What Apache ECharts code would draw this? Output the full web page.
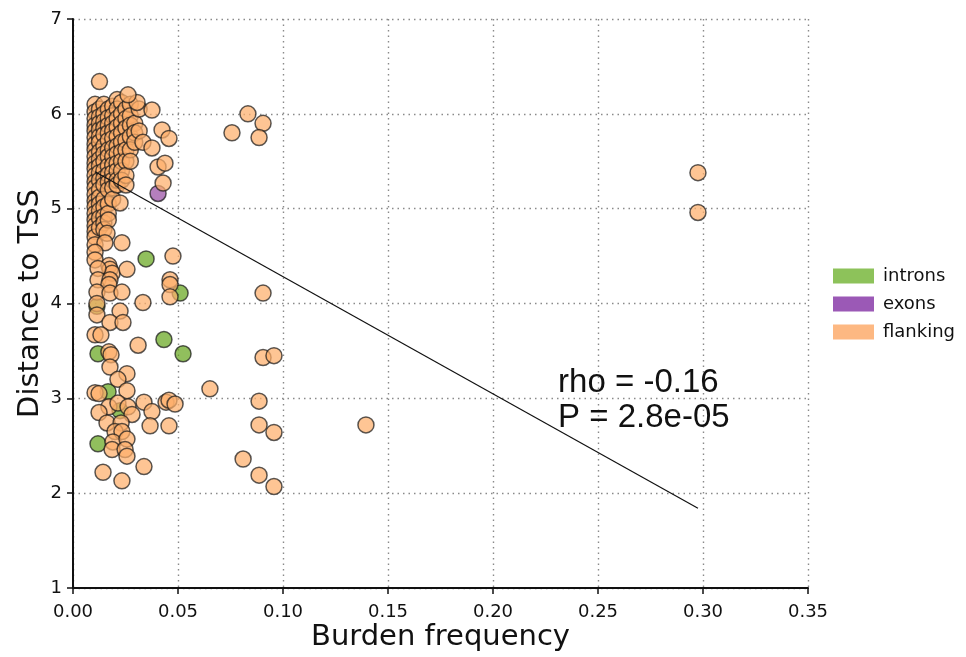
<!DOCTYPE html>
<html>
<head>
<meta charset="utf-8">
<script src="https://cdn.jsdelivr.net/npm/echarts@6/dist/echarts.min.js"></script>
<style>
  html, body { margin: 0; padding: 0; background: #ffffff; }
  #chart { width: 966px; height: 657px; }
</style>
</head>
<body>
<div id="chart"></div>
<script>
// Variant classes, in legend / draw order
const classNames = ['introns', 'exons', 'flanking'];
const pointColors = ['#66a61e', '#984ea3', '#fdae6b'];
const legendColors = ['#8dc25a', '#9b59b6', '#fdb882'];

// [burden frequency, distance to TSS]
const introns = [
  [0.0348, 4.47], [0.0510, 4.11], [0.0433, 3.62], [0.0524, 3.47],
  [0.0119, 3.47], [0.0167, 3.07], [0.0224, 2.87], [0.0119, 2.52],
  [0.0114, 3.97]
];

const exons = [
  [0.0405, 5.16]
];

// dense group of low-frequency variants
const flankingCore = [
  [0.0105, 6.10], [0.0105, 6.02], [0.0105, 5.95], [0.0105, 5.88], [0.0105, 5.82], [0.0105, 5.75],
  [0.0105, 5.68], [0.0105, 5.62], [0.0105, 5.55], [0.0105, 5.48], [0.0105, 5.42], [0.0105, 5.35],
  [0.0105, 5.28], [0.0105, 5.22], [0.0105, 5.15], [0.0105, 5.08], [0.0105, 5.02], [0.0105, 4.95],
  [0.0105, 4.88], [0.0105, 4.82], [0.0105, 4.76], [0.0105, 4.70],
  [0.0126, 6.34], [0.0126, 6.05], [0.0126, 5.97], [0.0126, 5.90], [0.0126, 5.83], [0.0126, 5.76],
  [0.0126, 5.70], [0.0126, 5.60], [0.0126, 5.52], [0.0126, 5.45], [0.0126, 5.38], [0.0126, 5.30],
  [0.0126, 5.20], [0.0126, 5.12], [0.0126, 5.05], [0.0126, 4.98], [0.0126, 4.90], [0.0126, 4.80],
  [0.0147, 6.10], [0.0147, 6.00], [0.0147, 5.92], [0.0147, 5.85], [0.0147, 5.78], [0.0147, 5.66],
  [0.0147, 5.58], [0.0147, 5.50], [0.0147, 5.40], [0.0147, 5.32], [0.0147, 5.25], [0.0147, 5.10],
  [0.0147, 5.02], [0.0147, 4.92], [0.0147, 4.85], [0.0147, 4.78],
  [0.0168, 6.05], [0.0168, 5.96], [0.0168, 5.88], [0.0168, 5.80], [0.0168, 5.72], [0.0168, 5.62],
  [0.0168, 5.55], [0.0168, 5.45], [0.0168, 5.36], [0.0168, 5.28], [0.0168, 5.20], [0.0168, 5.05],
  [0.0168, 4.95], [0.0168, 4.88],
  [0.0189, 6.08], [0.0189, 5.98], [0.0189, 5.90], [0.0189, 5.82], [0.0189, 5.74], [0.0189, 5.64],
  [0.0189, 5.55], [0.0189, 5.46], [0.0189, 5.38], [0.0189, 5.30], [0.0189, 5.22], [0.0189, 5.10],
  [0.0210, 6.15], [0.0210, 6.05], [0.0210, 5.95], [0.0210, 5.86], [0.0210, 5.76], [0.0210, 5.66],
  [0.0210, 5.58], [0.0210, 5.48], [0.0210, 5.40], [0.0210, 5.30], [0.0210, 5.25],
  [0.0231, 6.12], [0.0231, 6.00], [0.0231, 5.90], [0.0231, 5.80], [0.0231, 5.70], [0.0231, 5.60],
  [0.0231, 5.50], [0.0231, 5.40], [0.0231, 5.30],
  [0.0252, 6.05], [0.0252, 5.95], [0.0252, 5.85], [0.0252, 5.72], [0.0252, 5.62], [0.0252, 5.50],
  [0.0252, 5.35], [0.0252, 5.25],
  [0.0273, 6.10], [0.0273, 5.98], [0.0273, 5.88], [0.0273, 5.76], [0.0273, 5.62], [0.0273, 5.50],
  [0.0294, 5.90], [0.0294, 5.80], [0.0294, 5.70],
  [0.0315, 6.05], [0.0315, 5.82]
];

// the rest of the flanking variants
const flankingSpread = [
  [0.2976, 5.38], [0.2976, 4.96], [0.1395, 2.72], [0.0757, 5.80], [0.0833, 6.00], [0.0905, 5.90],
  [0.0886, 5.75], [0.0905, 4.11], [0.0905, 3.43], [0.0957, 3.45], [0.0652, 3.10], [0.0886, 2.97],
  [0.0886, 2.72], [0.0957, 2.64], [0.0810, 2.36], [0.0886, 2.19], [0.0957, 2.07],
  [0.0376, 6.04], [0.0424, 5.83], [0.0457, 5.74], [0.0333, 5.70], [0.0376, 5.64], [0.0405, 5.44],
  [0.0438, 5.48], [0.0429, 5.27], [0.0476, 4.50], [0.0462, 4.25], [0.0462, 4.20], [0.0462, 4.07],
  [0.0333, 4.01], [0.0233, 4.64], [0.0310, 3.56], [0.0338, 2.96], [0.0376, 2.86], [0.0367, 2.71],
  [0.0443, 2.96], [0.0457, 2.98], [0.0486, 2.94], [0.0457, 2.71], [0.0338, 2.28], [0.0224, 5.06],
  [0.0305, 6.12], [0.0262, 6.20],
  [0.0162, 4.74], [0.0105, 4.62], [0.0152, 4.64], [0.0105, 4.54], [0.0105, 4.46], [0.0171, 4.40],
  [0.0176, 4.36], [0.0186, 4.32], [0.0257, 4.36], [0.0119, 4.37], [0.0119, 4.25], [0.0176, 4.25],
  [0.0171, 4.20], [0.0114, 4.12], [0.0176, 4.11], [0.0233, 4.12], [0.0224, 3.92], [0.0114, 4.00],
  [0.0114, 3.88], [0.0176, 3.80], [0.0238, 3.80], [0.0105, 3.67], [0.0133, 3.67], [0.0171, 3.49],
  [0.0181, 3.46], [0.0176, 3.33], [0.0257, 3.26], [0.0214, 3.20], [0.0257, 3.08], [0.0105, 3.06],
  [0.0124, 3.05], [0.0171, 2.91], [0.0214, 2.95], [0.0262, 2.91], [0.0281, 2.83], [0.0124, 2.85],
  [0.0162, 2.74], [0.0229, 2.74], [0.0200, 2.65], [0.0233, 2.65], [0.0190, 2.54], [0.0257, 2.57],
  [0.0186, 2.46], [0.0248, 2.46], [0.0257, 2.39], [0.0143, 2.22], [0.0233, 2.13]
];

// least-squares fit, drawn between the smallest and largest burden frequency
const fitLine = [[0.0105, 5.39], [0.2976, 1.84]];

// correlation summary and where it sits (data coordinates, left / middle of each line)
const statsLines = ['rho = -0.16', 'P = 2.8e-05'];
const statsAnchors = [[0.231, 3.16], [0.231, 2.79]];

// axis ranges and tick spacing
const xRange = [0, 0.35], xStep = 0.05;
const yRange = [1, 7], yStep = 1;

const chart = echarts.init(document.getElementById('chart'), null, { renderer: 'canvas' });

const gridDash = { color: '#8a8a8a', type: [1.5, 4], width: 1.4 };
const tickFont = { fontFamily: 'DejaVu Sans', fontSize: 18, color: '#111' };
const titleFont = { fontFamily: 'DejaVu Sans', fontSize: 29, color: '#111' };

function scatterSeries(name, data, color) {
  return {
    name: name,
    type: 'scatter',
    data: data,
    symbol: 'circle',
    symbolSize: 16,
    itemStyle: { color: color, opacity: 0.72, borderColor: '#1a1a1a', borderWidth: 1.5 },
    emphasis: { disabled: true },
    z: 2
  };
}

const option = {
  animation: false,
  backgroundColor: '#ffffff',
  grid: { left: 73, top: 19, right: 158, bottom: 69, containLabel: false, outerBoundsMode: 'none' },
  xAxis: {
    type: 'value',
    min: xRange[0], max: xRange[1], interval: xStep,
    name: 'Burden frequency',
    nameLocation: 'middle',
    nameGap: 35,
    nameMoveOverlap: false,
    nameTextStyle: titleFont,
    axisLine: { show: true, onZero: false, lineStyle: { color: '#111', width: 2 } },
    axisTick: { show: true, inside: false, length: 6, lineStyle: { color: '#111', width: 1.5 } },
    axisLabel: Object.assign({ margin: 15, formatter: v => v.toFixed(2) }, tickFont),
    splitLine: { show: true, lineStyle: gridDash }
  },
  yAxis: {
    type: 'value',
    min: yRange[0], max: yRange[1], interval: yStep,
    name: 'Distance to TSS',
    nameLocation: 'middle',
    nameGap: 28,
    nameMoveOverlap: false,
    nameTextStyle: titleFont,
    axisLine: { show: true, onZero: false, lineStyle: { color: '#111', width: 2 } },
    axisTick: { show: true, inside: false, length: 6, lineStyle: { color: '#111', width: 1.5 } },
    axisLabel: Object.assign({ margin: 11, formatter: v => String(v) }, tickFont),
    splitLine: { show: true, lineStyle: gridDash }
  },
  legend: {
    orient: 'vertical',
    left: 828,
    top: 262,
    itemWidth: 41,
    itemHeight: 15,
    itemGap: 10,
    icon: 'rect',
    selectedMode: false,
    textStyle: { fontFamily: 'DejaVu Sans', fontSize: 18, color: '#111', padding: [0, 0, 0, 4] },
    data: classNames.map((n, i) => ({
      name: n,
      icon: 'rect',
      itemStyle: { color: legendColors[i], borderWidth: 0, opacity: 1 }
    }))
  },
  series: [
    scatterSeries(classNames[0], introns, pointColors[0]),
    scatterSeries(classNames[1], exons, pointColors[1]),
    scatterSeries(classNames[2], flankingCore.concat(flankingSpread), pointColors[2]),
    {
      name: 'fit',
      type: 'line',
      data: fitLine,
      symbol: 'none',
      silent: true,
      lineStyle: { color: '#111', width: 1.2 },
      z: 5
    }
  ]
};

chart.setOption(option);

// correlation text, anchored in data space
chart.setOption({
  graphic: statsLines.map((t, i) => {
    const p = chart.convertToPixel({ gridIndex: 0 }, statsAnchors[i]);
    return {
      type: 'text',
      x: p[0],
      y: p[1],
      z: 10,
      style: {
        text: t,
        fill: '#111',
        font: '33px "Liberation Sans", Arial, sans-serif',
        textAlign: 'left',
        textVerticalAlign: 'middle'
      }
    };
  })
});
</script>
</body>
</html>
